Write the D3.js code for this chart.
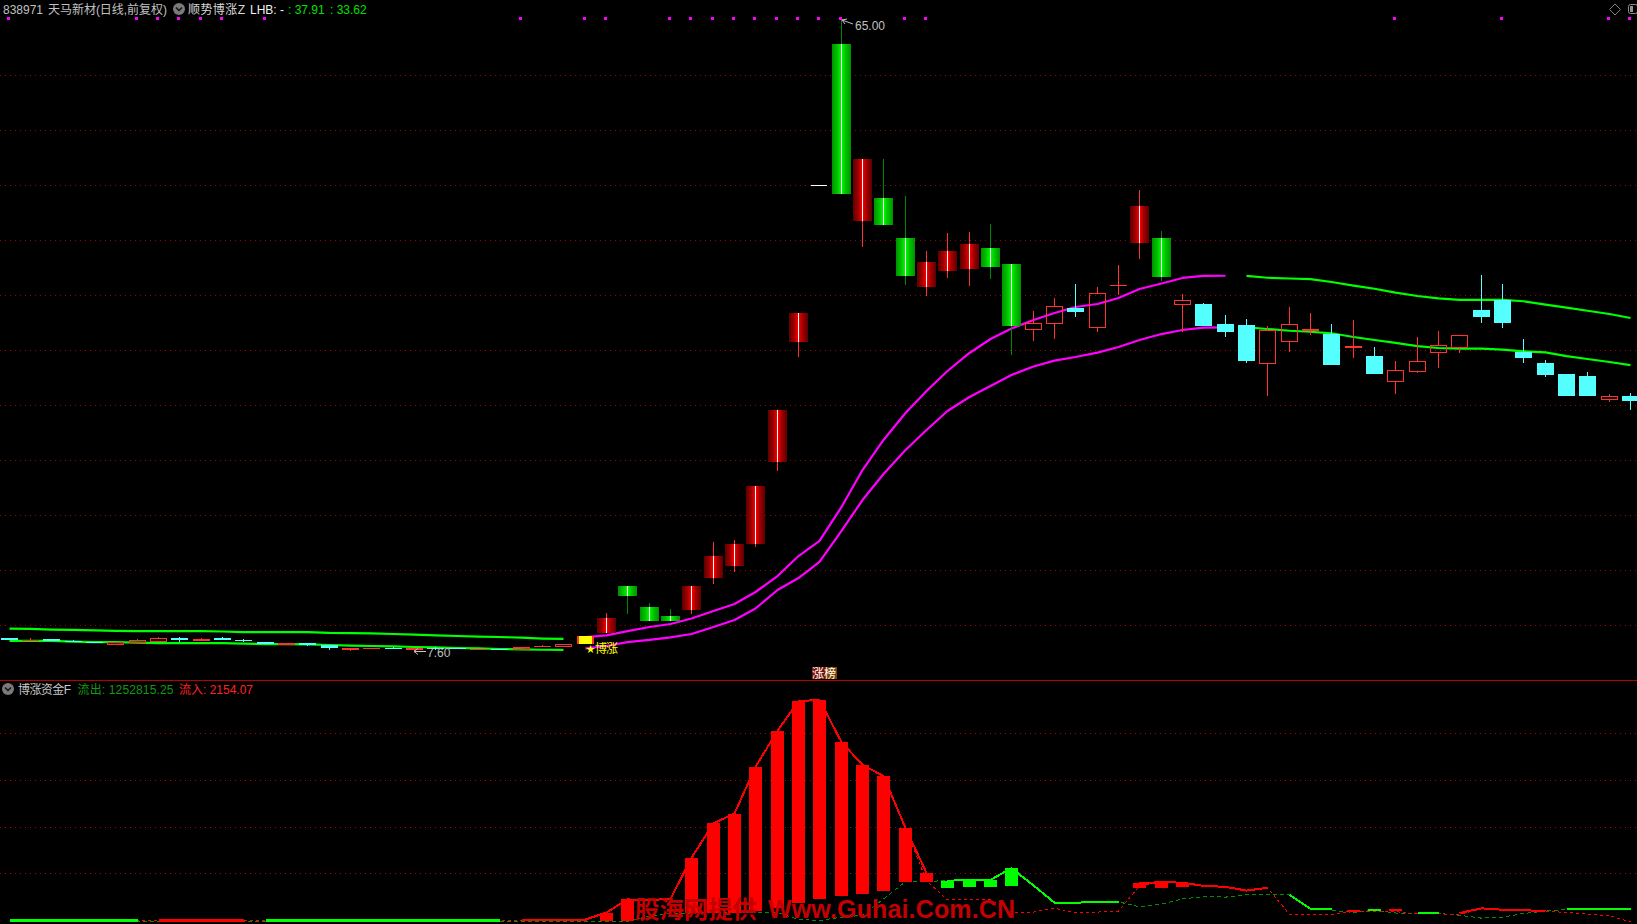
<!DOCTYPE html>
<html><head><meta charset="utf-8">
<style>html,body{margin:0;padding:0;background:#000;overflow:hidden}svg{display:block}
text{font-family:"Liberation Sans","Noto Sans CJK SC",sans-serif;font-size:12px}</style>
<script src="https://cdn.jsdelivr.net/npm/d3@7/dist/d3.min.js"></script></head><body>
<script>
// c cyan, h hollow red, r solid red, R gradient red, G gradient green, w flat white, y limit-up yellow
const candleKinds=["c","r","c","c","c","h","h","h","c","r","c","c","c","r","c","c","r","r","c","r","c","c","r","c","h","r","h","y",
"R","G","G","G","R","R","R","R","R","R","w","G","R","G","G","R","R","R","G","G","h","h","c","h","r","R","G","h","c","c","c","h","h","r","c","r","c","h","h","h","h","c","c","c","c","c","c","h","c"];
const priceHigh=[8.82,8.82,8.73,8.64,8.48,8.48,8.73,8.91,8.91,8.82,8.91,8.73,8.45,8.36,8.36,8.18,7.91,7.91,8.0,7.91,8.0,7.91,7.85,7.85,8.0,8.18,8.27,9.0,
11.09,13.55,12.0,11.45,13.55,17.55,17.73,22.64,29.55,38.36,50,65,52.37,52.37,49.0,44.0,45.65,45.72,46.45,42.82,38.55,39.73,41.0,40.73,42.73,49.55,45.82,40.09,39.27,38.18,37.82,37.18,38.91,38.36,37.36,37.73,35.27,34.0,36.18,36.73,36.34,41.82,41.0,36.0,34.09,32.82,33.0,31.0,31.09];
const bodyTop=[8.82,8.64,8.73,8.55,8.48,8.48,8.64,8.79,8.82,8.73,8.82,8.64,8.45,8.36,8.36,8.18,7.91,7.91,7.91,7.91,7.91,7.91,7.85,7.85,8.0,8.09,8.27,9.0,
10.64,13.55,11.64,10.82,13.55,16.27,17.36,22.64,29.55,38.36,50,62.83,52.37,48.83,45.19,43.0,44.0,44.64,44.27,42.82,37.43,38.97,38.82,40.15,40.88,48.09,45.18,39.52,39.18,37.36,37.27,36.79,37.34,36.91,36.45,35.36,34.45,33.15,33.97,35.43,36.34,38.64,39.55,34.82,33.82,32.82,32.64,30.79,30.82];
const bodyBottom=[8.64,8.55,8.55,8.45,8.39,8.21,8.36,8.45,8.64,8.55,8.64,8.55,8.27,8.18,8.18,7.91,7.73,7.82,7.82,7.73,7.82,7.79,7.75,7.75,7.73,8.0,8.0,8.27,
9.27,12.64,10.36,10.36,11.36,14.27,15.36,17.36,24.82,35.73,50,49.19,46.73,46.36,41.73,40.72,42.18,42.36,42.55,37.21,36.85,37.39,38.45,37.03,40.79,44.73,41.64,39.12,37.18,36.64,34.0,33.75,35.75,36.73,33.64,35.18,32.82,32.12,33.03,34.75,35.21,38.0,37.45,34.27,32.73,30.82,30.82,30.48,30.36];
const priceLow=[8.64,8.55,8.55,8.45,8.39,8.21,8.36,8.45,8.45,8.55,8.64,8.45,8.27,8.18,8.09,7.73,7.64,7.82,7.82,7.60,7.73,7.79,7.75,7.75,7.73,8.0,8.0,8.27,
9.27,11.0,10.36,10.36,11.0,13.73,14.82,17.05,24.03,34.32,50,49.19,44.35,46.36,40.91,39.94,41.55,40.85,41.45,34.55,35.82,36.0,38.0,36.64,39.97,43.27,41.27,36.66,37.18,36.18,33.82,30.82,34.82,36.36,33.64,34.27,32.82,31.0,32.91,33.36,34.73,37.45,37.0,33.82,32.55,30.82,30.82,30.27,29.55];
const maUpper=[9.67,9.64,9.58,9.55,9.51,9.47,9.45,9.45,9.45,9.44,9.41,9.36,9.36,9.36,9.36,9.29,9.27,9.24,9.18,9.13,9.06,9.0,8.95,8.91,8.85,8.77,8.73,
8.89,9.05,9.45,9.82,10.09,10.59,11.27,11.91,13.0,14.45,16.27,17.64,20.73,24.09,26.82,29.27,31.27,33.09,34.73,36.0,36.95,37.73,38.36,38.91,39.18,39.73,40.55,41.05,41.55,41.73,41.75,
41.73,41.57,41.5,41.45,41.18,40.85,40.57,40.21,39.91,39.7,39.55,39.55,39.55,39.43,39.12,38.85,38.57,38.27,37.91];
const maLower=[8.56,8.55,8.55,8.49,8.45,8.45,8.4,8.36,8.36,8.36,8.35,8.31,8.27,8.27,8.24,8.18,8.13,8.09,8.05,8.0,7.96,7.91,7.87,7.82,7.78,7.75,7.73,
7.88,8.09,8.45,8.64,8.88,9.18,9.82,10.45,11.5,13.18,14.27,15.73,18.55,21.36,23.73,25.91,27.73,29.45,30.73,31.73,32.73,33.5,34.03,34.36,34.76,35.27,35.91,36.45,36.82,37.03,37.05,
37.05,36.91,36.75,36.66,36.52,36.18,35.91,35.64,35.36,35.18,35.12,35.12,35.03,34.88,34.79,34.45,34.18,33.91,33.62];
const maRanges=[[0,26,"#00ff00"],[27,57,"#ff00ff"],[58,76,"#00ff00"]];
const signalDays=[0,6,7,8,9,10,12,24,27,28,31,32,33,34,35,36,37,38,39,42,43,65,70,75,76];
const priceGrid=[10,15,20,25,30,35,40,45,50,55,60];
const flowGrid=[100,200,300,400];
const mainFlow=[0,0,0,0,0,0,0,0,0,0,0,0,0,0,0,0,0,0,0,0,0,-1,-1,-1,0,0,0,1,
16,44,43,45,133,207,228,328,405,469,471,381,332,308,197,101,84,86,86,111,74,37,37,39,39,79,81,80,73,71,63,69,54,24,24,21,24,24,15,15,15,25,22,21,19,24,24,24,24];
const flowBarLow=[null,null,null,null,null,null,null,null,null,null,null,null,null,null,null,null,null,null,null,null,null,null,null,null,null,null,null,null,
-2,-2,null,null,15,15,15,20,25,36,45,51,56,62,81,81,69,71,71,73,null,null,null,null,null,69,69,71,null,null,null,null,null,null,null,17,19,19,null,null,null,null,null,null,null,null,null,null,null];
const flowBarKinds=[,,,,,,,,,,,,,,,,,,,,,,,,,,,,"r","r",,,"r","r","r","r","r","r","r","r","r","r","r","r","g","g","g","g",,,,,,"r","r","r",,,,,,,,"r","g","r",,,,,,,,,,,];
const flowRanges=[[0,6,"g"],[7,11,"r"],[12,23,"g"],[24,43,"r"],[44,52,"g"],[53,59,"r"],[60,62,"g"],[66,67,"g"],[68,72,"r"],[73,76,"g"]];
const redFlow=[-1,-1,-1,-1,-1,-1,-1,-1,-1,-1,-1,-1,-1,-1,-1,-1,-1,-1,-1,-1,-1,-1,-1,-1,-1,-1,-1,-1,
16,44,43,45,133,207,228,328,405,469,471,381,332,308,197,84,43,43,43,17,17,25,16,17,19,73,81,80,73,71,63,69,12,12,12,18,18,18,13,13,12,24,21,21,19,16,13,9,-4];
const greenFlow=[-3,-3,-3,-3,-3,-3,-3,-3,-3,-3,-3,-3,-3,-3,-3,-3,-3,-3,-3,-3,-3,-3,-3,-3,-3,-3,-3,-3,-3,-3,
9,14,15,15,15,15,16,1,-1,6,10,45,82,83,84,84,84,111,74,37,37,39,39,28,34,45,50,49,54,55,55,24,21,16,21,15,14,14,10,4,6,14,19,23,24,24,24];

const W=1637,H=924;
const x=d3.scaleLinear().domain([0,76]).range([9,1630.34]);
const y=d3.scaleLinear().domain([10,65]).range([625,20]);
const yf=d3.scaleLinear().domain([0,400]).range([920,733.2]);
const px=i=>Math.floor(x(i)+1e-6);
const svg=d3.select("body").append("svg").attr("width",W).attr("height",H).style("background","#000");
const defs=svg.append("defs");
function grad(id,stops){const g=defs.append("linearGradient").attr("id",id).attr("x1","0").attr("x2","1").attr("y1","0").attr("y2","0");
 stops.forEach(s=>g.append("stop").attr("offset",s[0]).attr("stop-color",s[1]));}
grad("gr",[[0,"#5c0000"],[.3,"#a80000"],[.5,"#ff0000"],[.7,"#a80000"],[1,"#5c0000"]]);
grad("gg",[[0,"#009000"],[.3,"#00c800"],[.5,"#00ff00"],[.7,"#00c800"],[1,"#009000"]]);

// grids
const gridLine=(sel,vals,sc,col)=>sel.selectAll(null).data(vals).join("line")
 .attr("x1",0).attr("x2",W).attr("y1",d=>Math.round(sc(d))+.5).attr("y2",d=>Math.round(sc(d))+.5)
 .attr("stroke",col).attr("stroke-width",1).attr("stroke-dasharray","1 4").attr("shape-rendering","crispEdges");
gridLine(svg.append("g"),priceGrid,y,"#a00000");
gridLine(svg.append("g"),flowGrid,yf,"#b00000");
svg.append("rect").attr("x",0).attr("y",680).attr("width",W).attr("height",1).attr("fill","#b80000");

// moving-average lines
const maG=svg.append("g").attr("fill","none").attr("stroke-width",2.2).attr("stroke-linejoin","round");
[maUpper,maLower].forEach(s=>maRanges.forEach(r=>{
 const idx=d3.range(r[0],r[1]+1);
 maG.append("path").attr("stroke",r[2]).attr("d",d3.line().x(i=>px(i)+.5).y(i=>y(s[i]))(idx));
}));

// candles
const cG=svg.append("g").attr("shape-rendering","crispEdges");
const wickCol={c:"#54ffff",h:"#ff3232",r:"#ff3232",R:"#ff3232",G:"#008a00",w:"#ffffff",y:"#ff3232"};
candleKinds.forEach((k,i)=>{
 const cx=px(i),t=Math.round(y(bodyTop[i])),b=Math.round(y(bodyBottom[i])),hi=Math.round(y(priceHigh[i])),lo=Math.round(y(priceLow[i]));
 if(k==="w"){cG.append("rect").attr("x",cx-8).attr("y",t).attr("width",16).attr("height",1).attr("fill","#fff");return;}
 if(k==="y"){
  cG.append("rect").attr("x",cx-8).attr("y",t).attr("width",17).attr("height",b-t).attr("fill","#ff3232");
  cG.append("rect").attr("x",cx-6).attr("y",t).attr("width",13).attr("height",b-t).attr("fill","#ffff00");return;}
 if(hi<t)cG.append("rect").attr("x",cx).attr("y",hi).attr("width",1).attr("height",t-hi).attr("fill",wickCol[k]);
 if(lo>b)cG.append("rect").attr("x",cx).attr("y",b).attr("width",1).attr("height",lo-b).attr("fill",wickCol[k]);
 if(k==="R"||k==="G"){
  cG.append("rect").attr("x",cx-9).attr("y",t).attr("width",19).attr("height",b-t).attr("fill",k==="R"?"url(#gr)":"url(#gg)");
  cG.append("rect").attr("x",cx).attr("y",t).attr("width",1).attr("height",b-t).attr("fill","#fff");
 }else if(k==="c"){
  cG.append("rect").attr("x",cx-8).attr("y",t).attr("width",17).attr("height",Math.max(1,b-t)).attr("fill","#54ffff");
 }else if(k==="r"){
  cG.append("rect").attr("x",cx-8).attr("y",t).attr("width",17).attr("height",Math.max(1,b-t)).attr("fill","#ff3232");
 }else{
  cG.append("rect").attr("x",cx-7.5).attr("y",t+.5).attr("width",16).attr("height",Math.max(1,b-t-1)).attr("fill","none").attr("stroke","#ff3232");
 }
});
// signal dots
svg.append("g").selectAll("rect").data(signalDays).join("rect")
 .attr("x",d=>px(d)-2).attr("y",17).attr("width",3).attr("height",3).attr("fill","#ff00ff");

// flow lines
const fG=svg.append("g").attr("fill","none").attr("shape-rendering","crispEdges");
const all=d3.range(0,77);
const fl=s=>d3.line().x(i=>px(i)+.5).y(i=>yf(s[i]))(all);
fG.append("path").attr("d",fl(greenFlow)).attr("stroke","#009000").attr("stroke-dasharray","4 3");
fG.append("path").attr("d",fl(redFlow)).attr("stroke","#ff0000").attr("stroke-dasharray","3 3");
const flowCol={r:"#ff0000",g:"#00ff00"};
flowRanges.forEach(r=>{
 const idx=d3.range(r[0],r[1]+1);
 fG.append("path").attr("stroke",flowCol[r[2]]).attr("stroke-width",r[1]<24?3:2)
  .attr("d",d3.line().x(i=>px(i)+.5).y(i=>yf(mainFlow[i]))(idx));
});
// flow bars
svg.append("g").attr("shape-rendering","crispEdges").selectAll("rect")
 .data(all.filter(i=>flowBarLow[i]!==null)).join("rect")
 .attr("x",i=>px(i)-6).attr("width",13)
 .attr("y",i=>Math.round(yf(mainFlow[i]))).attr("height",i=>Math.round(yf(flowBarLow[i]))-Math.round(yf(mainFlow[i])))
 .attr("fill",i=>flowCol[flowBarKinds[i]]);

// texts
function T(xp,yp,s,c){return svg.append("text").attr("x",xp).attr("y",yp).attr("fill",c).text(s);}
function chevron(cx,cy){
 svg.append("circle").attr("cx",cx).attr("cy",cy).attr("r",6).attr("fill","#7a7a7a");
 svg.append("path").attr("d",`M${cx-3},${cy-1.5}L${cx},${cy+1.5}L${cx+3},${cy-1.5}`).attr("fill","none").attr("stroke","#111").attr("stroke-width",1.4);
}
T(3,13.5,"838971","#c0c0c0").attr("textLength",40);
T(48,13.5,"天马新材(日线,前复权)","#c0c0c0").attr("textLength",119);
chevron(179,9);
T(188,13.5,"顺势博涨Z","#d8d8d8").attr("textLength",57);
T(250,13.5,"LHB: -","#f0f0f0");
T(288,13.5,": 37.91","#00e000");
T(330,13.5,": 33.62","#00e000");
// top-right icons
svg.append("path").attr("d","M1615,4L1620.5,9.5L1615,15L1609.5,9.5Z").attr("fill","none").attr("stroke","#808080");
svg.append("rect").attr("x",1628.5).attr("y",4.5).attr("width",9).attr("height",9).attr("rx",2).attr("fill","none").attr("stroke","#909090");
svg.append("rect").attr("x",1630).attr("y",6).attr("width",3).attr("height",6).attr("fill","#909090");

// high / low labels
svg.append("path").attr("d","M842,20L853,24M842,20L847,19M842,20L845,24").attr("fill","none").attr("stroke","#c0c0c0");
T(855,30,"65.00","#c0c0c0");
svg.append("path").attr("d","M414,651.5L426,651.5M414,651.5L418,648.5M414,651.5L418,654.5").attr("fill","none").attr("stroke","#c0c0c0");
T(427,657,"7.60","#c0c0c0");
T(586,652,"★","#ffff00").style("font-size","9px");
T(595,653,"博涨","#ffff00").attr("textLength",23);

// 涨榜 tag
svg.append("rect").attr("x",812).attr("y",667).attr("width",13).attr("height",12).attr("fill","#7a1000");
svg.append("rect").attr("x",825).attr("y",667).attr("width",12).attr("height",12).attr("fill","#804000");
T(812,677.5,"涨榜","#ffffff");

// lower panel title
chevron(8,689);
T(18,693.5,"博涨资金F","#c8c8c8").attr("textLength",53);
T(77.5,693.5,"流出: 1252815.25","#109a10").attr("textLength",96);
T(179,693.5,"流入: 2154.07","#ff2020").attr("textLength",74);

// watermark
const wm=svg.append("g").attr("fill","#c40000");
wm.append("text").attr("x",635).attr("y",918).style("font-size","24.4px").style("font-weight","bold").text("股海网提供");
wm.append("text").attr("x",768).attr("y",918).style("font-size","25px").style("font-weight","bold").attr("textLength",247).text("Www.Guhai.Com.CN");
</script></body></html>
